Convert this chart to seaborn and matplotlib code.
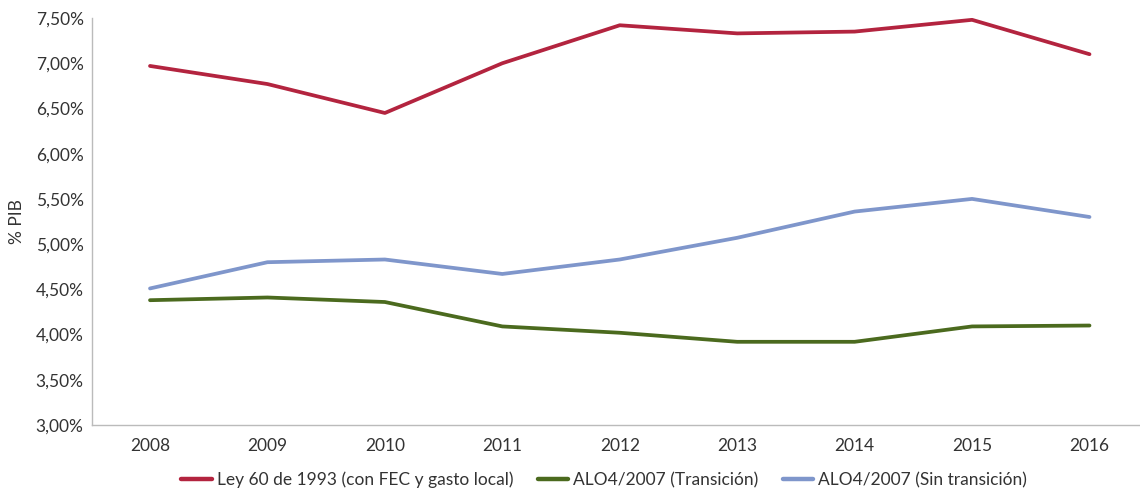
import matplotlib
matplotlib.use("Agg")
import matplotlib.pyplot as plt
import matplotlib.ticker as mticker
import seaborn as sns
import pandas as pd

years = [2008, 2009, 2010, 2011, 2012, 2013, 2014, 2015, 2016]
ley60 = [6.97, 6.77, 6.45, 7.00, 7.42, 7.33, 7.35, 7.48, 7.10]
alo_transicion = [4.38, 4.41, 4.36, 4.09, 4.02, 3.92, 3.92, 4.09, 4.10]
alo_sin_transicion = [4.51, 4.80, 4.83, 4.67, 4.83, 5.07, 5.36, 5.50, 5.30]

series_names = [
    "Ley 60 de 1993 (con FEC y gasto local)",
    "ALO4/2007 (Transición)",
    "ALO4/2007 (Sin transición)",
]
series_colors = ["#B3243F", "#4B6A1E", "#7F96CB"]

df = pd.concat([
    pd.DataFrame({"año": years, "valor": ley60, "serie": series_names[0]}),
    pd.DataFrame({"año": years, "valor": alo_transicion, "serie": series_names[1]}),
    pd.DataFrame({"año": years, "valor": alo_sin_transicion, "serie": series_names[2]}),
])

sns.set_theme(style="white")
plt.rcParams["font.family"] = ["Lato", "DejaVu Sans"]

fig = plt.figure(figsize=(11.4, 4.91), dpi=100)
ax = fig.add_axes([0.0807, 0.1344, 0.9193, 0.8289])

sns.lineplot(data=df, x="año", y="valor", hue="serie", hue_order=series_names,
             palette=series_colors, linewidth=2.7, ax=ax, legend=False)

ax.set_ylim(3.0, 7.5)
ax.set_yticks([3.0, 3.5, 4.0, 4.5, 5.0, 5.5, 6.0, 6.5, 7.0, 7.5])
ax.yaxis.set_major_formatter(mticker.FuncFormatter(lambda v, p: f"{v:.2f}%".replace(".", ",")))
ax.set_xlim(2007.506, 2016.43)
ax.set_xticks(years)
ax.set_xticklabels([str(y) for y in years])

ax.tick_params(axis="both", length=0, labelsize=12.5, colors="#333333")
ax.tick_params(axis="x", pad=9)
ax.tick_params(axis="y", pad=6)
ax.set_xlabel("")
ax.set_ylabel("% PIB", fontsize=12.5, color="#333333", labelpad=8)

for side in ["top", "right"]:
    ax.spines[side].set_visible(False)
for side in ["left", "bottom"]:
    ax.spines[side].set_color("#BBBBBB")
    ax.spines[side].set_linewidth(1.0)

handles = [plt.Line2D([], [], color=c, linewidth=3.2) for c in series_colors]
fig.legend(handles, series_names, loc="center", bbox_to_anchor=(0.53, 0.022),
           ncol=3, frameon=False, fontsize=12.5, handlelength=1.75,
           handletextpad=0.3, columnspacing=1.4, labelcolor="#333333")

fig.savefig("out.png", dpi=100)
